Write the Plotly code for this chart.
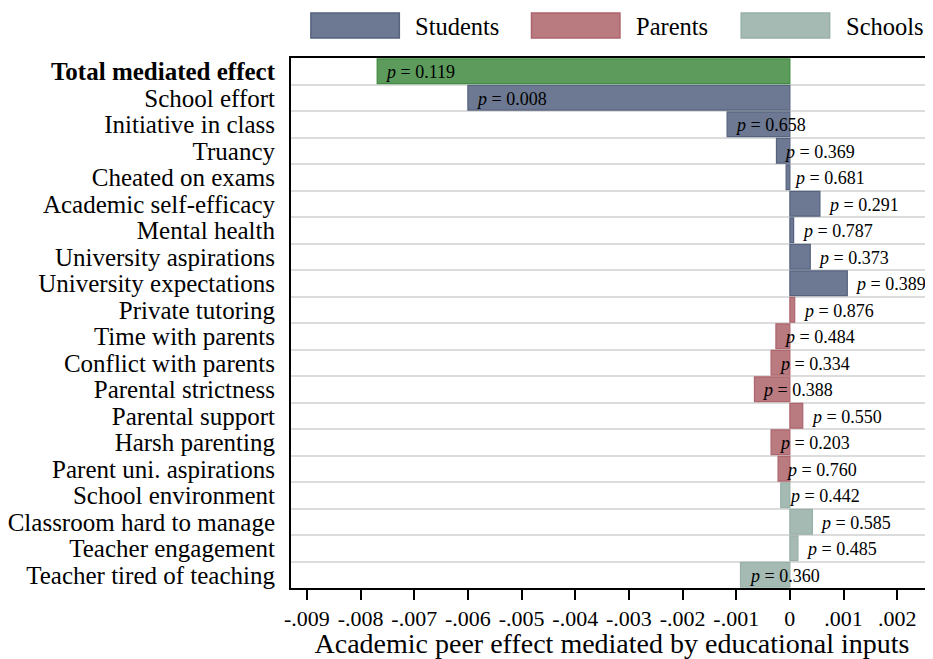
import plotly.graph_objects as go

# ---------------- data ----------------
categories = [
    "Total mediated effect", "School effort", "Initiative in class", "Truancy",
    "Cheated on exams", "Academic self-efficacy", "Mental health",
    "University aspirations", "University expectations", "Private tutoring",
    "Time with parents", "Conflict with parents", "Parental strictness",
    "Parental support", "Harsh parenting", "Parent uni. aspirations",
    "School environment", "Classroom hard to manage", "Teacher engagement",
    "Teacher tired of teaching",
]
groups = (["Total"] + ["Students"] * 8 + ["Parents"] * 7 + ["Schools"] * 4)
values = [
    -0.00769, -0.00600, -0.00117, -0.00025, -0.00007, 0.00056, 0.00007,
    0.00038, 0.00107, 0.00009, -0.00026, -0.00035, -0.00066, 0.00024,
    -0.00035, -0.00022, -0.00017, 0.00042, 0.00015, -0.00092,
]
p_values = [
    "0.119", "0.008", "0.658", "0.369", "0.681", "0.291", "0.787", "0.373",
    "0.389", "0.876", "0.484", "0.334", "0.388", "0.550", "0.203", "0.760",
    "0.442", "0.585", "0.485", "0.360",
]
tick_vals = [-0.009, -0.008, -0.007, -0.006, -0.005, -0.004, -0.003, -0.002,
             -0.001, 0, 0.001, 0.002]
tick_text = ["-.009", "-.008", "-.007", "-.006", "-.005", "-.004", "-.003",
             "-.002", "-.001", "0", ".001", ".002"]
legend_groups = ["Students", "Parents", "Schools"]

# ---------------- styles ----------------
FONT = "Liberation Serif, Times New Roman, serif"
fills = {"Total": "#5c9b5c", "Students": "#6d7992", "Parents": "#b97a80",
         "Schools": "#a4bab2"}
edges = {"Total": "#3f8b3f", "Students": "#56637f", "Parents": "#ad646c",
         "Schools": "#98b0a7"}

positions = list(range(len(categories)))

fig = go.Figure()
for g in ["Total", "Students", "Parents", "Schools"]:
    idx = [i for i, gg in enumerate(groups) if gg == g]
    fig.add_trace(go.Bar(
        x=[values[i] for i in idx],
        y=[positions[i] for i in idx],
        orientation="h",
        name=g,
        width=0.93,
        marker=dict(color=fills[g], line=dict(color=edges[g], width=1.2)),
        showlegend=False,
    ))

# p-value labels
for i, (v, p) in enumerate(zip(values, p_values)):
    fig.add_annotation(
        x=v, y=positions[i], xref="x", yref="y",
        text="<i>p</i> = " + p, showarrow=False,
        xanchor="left", yanchor="middle", xshift=6, yshift=-1,
        font=dict(family=FONT, size=18, color="black"),
    )

# page body has an 8px margin: figure is drawn 8px in from the window corner
OFF = 8
W, H = 933 - OFF, 659 - OFF
L, T = 287 - OFF, 58 - OFF
R = 0
B = H - (588 - OFF)
pw, ph = W - L - R, H - T - B
def px_x(px):
    return (px - OFF - L) / pw
def px_y(py):
    return (H - B - (py - OFF)) / ph

legend_box_left = [307, 529, 740]
for g, bx in zip(legend_groups, legend_box_left):
    fig.add_shape(type="rect", xref="paper", yref="paper",
                  x0=px_x(bx), x1=px_x(bx + 89), y0=px_y(38), y1=px_y(13),
                  fillcolor=fills[g], line=dict(color=edges[g], width=1.5))
    fig.add_annotation(x=px_x(bx + 103), y=px_y(27), xref="paper", yref="paper",
                       text=g, showarrow=False, xanchor="left", yanchor="middle",
                       font=dict(family=FONT, size=24.5, color="black"))

ticktext_y = ["<b>" + categories[0] + "</b>"] + categories[1:]

fig.update_layout(
    width=W, height=H,
    margin=dict(l=L, r=R, t=T, b=B, pad=0),
    plot_bgcolor="white", paper_bgcolor="white",
    barmode="overlay",
    font=dict(family=FONT, color="black"),
    xaxis=dict(
        range=[-0.009296, 0.002667],
        tickvals=tick_vals, ticktext=tick_text,
        ticks="outside", ticklen=10, tickwidth=2, tickcolor="black",
        tickfont=dict(family=FONT, size=22, color="black"),
        showgrid=False, zeroline=False,
        showline=True, linecolor="black", linewidth=2, mirror=True,
        title=dict(text="Academic peer effect mediated by educational inputs",
                   font=dict(family=FONT, size=28, color="black"), standoff=3),
    ),
    yaxis=dict(
        range=[len(categories) - 0.5, -0.5],
        tickvals=positions, ticktext=ticktext_y,
        ticks="outside", ticklen=9, tickcolor="rgba(0,0,0,0)",
        tickfont=dict(family=FONT, size=25, color="black"),
        showgrid=False, zeroline=False,
        showline=True, linecolor="black", linewidth=2, mirror=False,
        minor=dict(tick0=0.5, dtick=1, showgrid=True, gridcolor="#dcdcdc",
                   gridwidth=2, ticks=""),
    ),
)

fig.write_html("out.html")
